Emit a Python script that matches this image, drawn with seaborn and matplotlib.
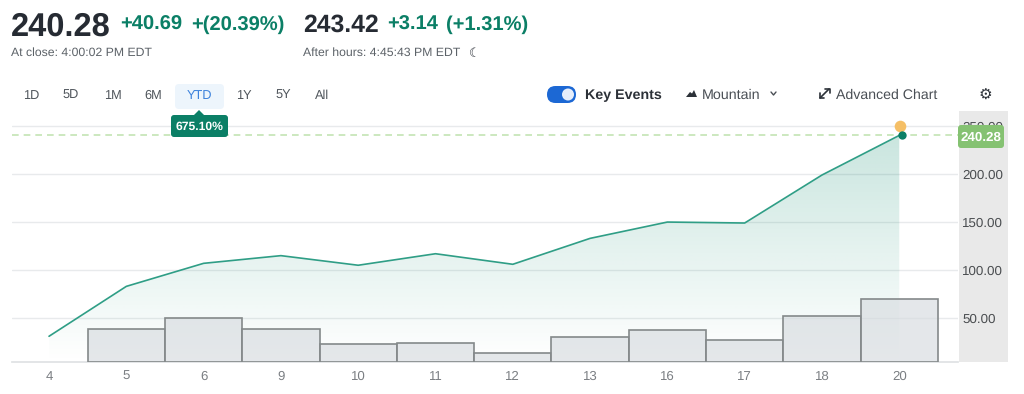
# Import libraries/modules
import numpy as np
import matplotlib
matplotlib.use('Agg')
import matplotlib.pyplot as plt
import seaborn as sns
from matplotlib.patches import FancyBboxPatch, Polygon, Rectangle, Circle
from matplotlib.lines import Line2D
from matplotlib.transforms import Affine2D

# Chart data
days = ['4', '5', '6', '9', '10', '11', '12', '13', '16', '17', '18', '20']
prices = [31, 83, 107, 115, 105, 117, 106, 133, 150, 149, 199, 240.28]
volumes = [np.nan, 33.3, 43.7, 32.7, 18, 19.3, 8.7, 24.7, 31.9, 22.4, 46, 63]
price_ticks = [50, 100, 150, 200, 250]
last_price = 240.28
event_price = 250
ranges = ['1D', '5D', '1M', '6M', 'YTD', '1Y', '5Y', 'All']
range_x = [31, 71, 113, 153, 199, 244, 283, 322]

W, H = 1024, 394
GREEN = '#0b7f66'
LINE = '#2f9e86'
DARK = '#262b33'
GREY = '#5c6268'

sns.set_theme(style='white')
plt.rcParams['font.family'] = ['Liberation Sans', 'DejaVu Sans']
plt.rcParams['text.hinting'] = 'no_hinting'

fig = plt.figure(figsize=(W / 100, H / 100), dpi=100, facecolor='white')
px = Affine2D().scale(1 / W, -1 / H).translate(0, 1) + fig.transFigure

def label(x, y, s, size, color=DARK, weight='normal', ha='left', zorder=6):
    fig.text(x, y, s, transform=px, fontsize=size, color=color, fontweight=weight,
             ha=ha, va='center_baseline', zorder=zorder)

def box(x, y, w, h, color, radius=3, zorder=5):
    fig.add_artist(FancyBboxPatch((x, y), w, h, boxstyle='round,pad=0,rounding_size={}'.format(radius),
                                  transform=px, facecolor=color, edgecolor='none', zorder=zorder))

# Price strip sits behind the axes
fig.add_artist(Rectangle((959, 111), 49, 251, transform=px, facecolor='#e9e9e9', edgecolor='none', zorder=-1))

left, right, top, bottom = 12, 958, 111, 362
ax = fig.add_axes([left / W, 1 - bottom / H, (right - left) / W, (bottom - top) / H])
ax.patch.set_alpha(0)
ax2 = ax.twinx()
ax2.patch.set_alpha(0)

xpos = np.arange(len(days))
sns.lineplot(x=xpos, y=prices, ax=ax, color=LINE, linewidth=1.2, zorder=4)

# Gradient under the line, clipped to the mountain shape
ylim = (4.2, 265.7)
area = ax.fill_between(xpos, prices, ylim[0], color='none', linewidth=0)
shade = np.zeros((256, 2, 4))
shade[..., :3] = matplotlib.colors.to_rgb('#0b8a6c')
shade[..., 3] = np.linspace(0.22, 0.0, 256)[:, None]
im = ax.imshow(shade, extent=(xpos[0], xpos[-1], ylim[0], max(prices)), origin='upper',
               aspect='auto', zorder=2, interpolation='bilinear')
im.set_clip_path(area.get_paths()[0], transform=ax.transData)

ax.axhline(last_price, color='#c3e4b4', linewidth=1.2, dashes=(4, 3), zorder=3)
ax.scatter([xpos[-1] + 0.03], [last_price], s=36, color=GREEN, zorder=7, linewidth=0)
ax.scatter([xpos[-1] + 0.01], [event_price], s=70, color='#f5bf66', zorder=6, linewidth=0)

ax.set_xlim(-0.479, 11.76)
ax.set_ylim(*ylim)
ax.set_yticks(price_ticks)
ax.set_yticklabels(['{:.2f}'.format(t) for t in price_ticks])
ax.yaxis.tick_right()
ax.tick_params(axis='y', length=0, pad=3, labelsize=9.6, labelcolor='#4a4d50')
ax.set_xticks(xpos)
ax.set_xticklabels(days)
ax.tick_params(axis='x', length=0, pad=6, labelsize=9.5, labelcolor='#7b7f83')
ax.grid(axis='y', color='#e8eaec', linewidth=1)
ax.set_axisbelow(True)
ax.set_xlabel('')
ax.set_ylabel('')
for side in ['top', 'left', 'right']:
    ax.spines[side].set_visible(False)
ax.spines['bottom'].set_color('#dfe2e4')

# Volume bars on their own scale
sns.barplot(x=xpos, y=volumes, ax=ax2, width=1, order=list(xpos), color='#d9dee1',
            edgecolor='#84898a', linewidth=1.2, saturation=1)
for bar in ax2.patches:
    bar.set_edgecolor('#84898a')
    bar.set_facecolor((0.84, 0.86, 0.875, 0.65))
ax2.set_xlim(-0.479, 11.76)
ax2.set_ylim(0, 251)
ax2.set_yticks([])
ax2.set_ylabel('')
ax2.set_xlabel('')
ax2.grid(False)
for side in ax2.spines:
    ax2.spines[side].set_visible(False)
ax2.tick_params(axis='x', length=0, labelbottom=False, labeltop=False)
ax.set_xticks(xpos)
ax.set_xticklabels(days)

# Quote header
label(11, 24, '240.28', 23.5, weight='bold')
label(120, 23, '+40.69', 14.5, GREEN, 'bold')
label(191, 23, '+(20.39%)', 14.5, GREEN, 'bold')
label(303, 23, '243.42', 17.8, weight='bold')
label(387, 23, '+3.14', 14.5, GREEN, 'bold')
label(446, 23, '(+1.31%)', 14.5, GREEN, 'bold')
label(11, 52, 'At close: 4:00:02 PM EDT', 8.8, GREY)
label(303, 52, 'After hours: 4:45:43 PM EDT', 8.8, GREY)
label(475, 52, '\u263e', 9, DARK, 'bold', ha='center')

# Range buttons
box(175, 84, 49, 25, '#edf5fc', radius=4, zorder=1)
for name, x in zip(ranges, range_x):
    label(x, 94, name, 9.2, '#3d82dc' if name == 'YTD' else '#50565c', ha='center')

# Return tooltip
fig.add_artist(Polygon([(194, 115), (199, 110), (204, 115)], transform=px, facecolor=GREEN, edgecolor='none', zorder=5))
box(171, 115, 57, 22, GREEN)
label(199.5, 126, '675.10%', 8.7, 'white', 'bold', ha='center')

# Controls on the right
box(547, 86, 29, 17, '#1c68d4', radius=8.5)
fig.add_artist(Circle((568, 94.5), 6, transform=px, facecolor='#e6eefb', edgecolor='none', zorder=6))
label(585, 94, 'Key Events', 10.3, '#2c3138', 'bold')
fig.add_artist(Polygon([(686, 97), (690, 92), (692, 93.5), (694, 90), (697, 97)], transform=px,
                       facecolor='#2c3138', edgecolor='none', zorder=6))
label(702, 93.5, 'Mountain', 10.3, '#4a4f55')
fig.add_artist(Line2D([771, 773.5, 776], [92, 95, 92], transform=px, color='#4a4f55', linewidth=1, zorder=6))
fig.add_artist(Line2D([820, 829], [98, 89], transform=px, color='#2c3138', linewidth=1.2, zorder=6))
fig.add_artist(Line2D([825, 829.5, 829.5], [89, 89, 93.5], transform=px, color='#2c3138', linewidth=1.2, zorder=6))
fig.add_artist(Line2D([819.5, 819.5, 824], [93.5, 98.5, 98.5], transform=px, color='#2c3138', linewidth=1.2, zorder=6))
label(836, 93.5, 'Advanced Chart', 10.2, '#4a4f55')
label(985, 94, '\u2699', 11, '#2c3138', ha='center')

# Current price badge
box(958, 125, 46, 23, '#85c272', radius=3)
label(981, 136.5, '240.28', 9.6, 'white', 'bold', ha='center')

plt.savefig('out.png', dpi=100)
